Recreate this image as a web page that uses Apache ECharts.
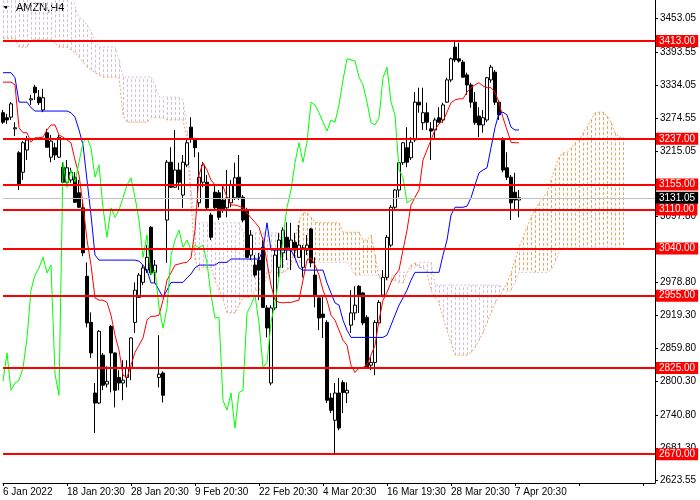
<!DOCTYPE html>
<html lang="en">
<head>
<meta charset="UTF-8">
<title>AMZN,H4</title>
<script src="https://cdn.jsdelivr.net/npm/echarts@6/dist/echarts.min.js"></script>
<style>html,body{margin:0;padding:0;background:#fff}</style>
</head>
<body>
<div id="main" style="width:700px;height:500px"></div>
<script>
// x axis: one label every 16 bars
var dateTicks = ['6 Jan 2022', '18 Jan 20:30', '28 Jan 20:30', '9 Feb 20:30', '22 Feb 20:30',
    '4 Mar 20:30', '16 Mar 19:30', '28 Mar 20:30', '7 Apr 20:30'];
var priceTicks = [3453.05, 3393.55, 3334.05, 3274.55, 3215.05, 3097.80, 2978.80, 2919.30,
    2859.80, 2800.30, 2740.80, 2681.30, 2623.55];
var levels = [3413, 3237, 3155, 3110, 3040, 2955, 2825, 2670];
var lastPrice = 3131.05;

// [open, close, low, high]
var candles = [
    [3284,3267,3264,3289],[3275,3271,3264,3282],[3276,3300,3271,3303],[3255,3257,3242,3267],[3212,3154,3145,3215],
    [3177,3230,3163,3233],[3217,3235,3199,3242],[3307,3309,3298,3316],[3330,3320,3307,3334],[3312,3302,3298,3325],
    [3289,3311,3285,3327],[3248,3222,3221,3255],[3204,3233,3195,3244],[3221,3208,3199,3230],[3204,3240,3203,3244],
    [3186,3159,3158,3195],[3159,3185,3154,3199],[3163,3177,3158,3185],[3168,3123,3122,3177],[3140,3114,3113,3163],
    [3113,3032,3026,3127],[2990,2906,2898,3015],[2907,2852,2843,2925],[2780,2762,2708,2798],[2762,2891,2760,2893],
    [2848,2794,2785,2852],[2796,2801,2790,2828],[2900,2852,2781,2902],[2852,2785,2754,2853],[2808,2798,2785,2821],
    [2798,2803,2767,2839],[2808,2825,2790,2839],[2825,2879,2803,2880],[2907,2965,2888,2979],[2952,2992,2951,2996],
    [2979,3005,2974,3010],[3001,3024,2996,3046],[3078,2996,2992,3080],[2997,3010,2978,3019],[2808,2814,2790,2884],
    [2816,2776,2763,2819],[3091,3195,3014,3199],[3195,3150,3149,3222],[3150,3181,3149,3253],[3181,3159,3145,3194],
    [3136,3195,3113,3208],[3190,3230,3186,3235],[3258,3239,3230,3276],[3235,3221,3204,3239],[3122,3168,3114,3213],
    [3159,3190,3150,3195],[3159,3113,3109,3172],[3100,3060,3055,3104],[3141,3113,3109,3154],[3140,3096,3091,3145],
    [3127,3109,3104,3154],[3113,3131,3096,3181],[3122,3154,3114,3163],[3131,3167,3127,3194],[3168,3132,3127,3208],
    [3132,3091,3087,3136],[3109,3024,3023,3113],[3028,3064,3019,3073],[3010,2992,2988,3028],[3019,3001,2947,3032],
    [3042,2934,2933,3055],[2933,2897,2880,2938],[2798,2933,2794,2938],[2933,3028,2929,3037],[3006,3055,2988,3068],
    [3032,3073,3005,3078],[3060,3042,3019,3087],[3037,3055,3001,3086],[3051,3037,3023,3068],[3024,3046,3023,3082],
    [3006,3041,2988,3046],[3037,3046,3028,3064],[3075,3014,3006,3077],[2992,2956,2934,3024],[2951,2915,2893,2952],
    [2922,2916,2879,2956],[2907,2767,2762,2911],[2771,2749,2744,2780],[2731,2780,2672,2798],[2780,2717,2713,2807],
    [2799,2781,2744,2803],[2780,2785,2762,2799],[2902,2924,2888,2965],[2924,2938,2911,2972],[2972,2956,2924,2974],
    [2960,2906,2902,2961],[2916,2826,2825,2920],[2830,2835,2821,2844],[2835,2907,2812,2911],[2906,2943,2902,2947],
    [2956,2988,2952,3001],[2988,3060,2983,3064],[3046,3114,3042,3118],[3114,3145,3109,3147],[3145,3194,3132,3195],
    [3194,3230,3190,3231],[3221,3195,3186,3258],[3203,3231,3199,3240],[3235,3303,3231,3321],[3303,3298,3284,3329],
    [3266,3284,3253,3329],[3284,3267,3253,3302],[3255,3251,3199,3267],[3253,3271,3235,3275],[3275,3267,3266,3294],
    [3271,3298,3266,3302],[3303,3343,3302,3347],[3343,3381,3339,3383],[3402,3379,3375,3413],[3381,3377,3374,3410],
    [3375,3348,3347,3379],[3352,3334,3316,3356],[3334,3303,3293,3338],[3303,3266,3262,3321],[3278,3262,3240,3294],
    [3262,3275,3248,3289],[3271,3347,3267,3348],[3343,3366,3338,3370],[3357,3303,3298,3361],[3303,3280,3271,3307],
    [3235,3181,3177,3240],[3185,3168,3163,3213],[3168,3122,3091,3172],[3141,3127,3109,3176],[3127,3131.05,3096,3145]
];

var tenkan = [
    3339,3339,3339,3334,3257,3248,3248,3231,3239,3239,
    3240,3253,3262,3262,3244,3240,3235,3230,3199,3172,
    3118,3055,3010,2951,2947,2947,2943,2920,2884,2857,
    2812,2808,2830,2853,2866,2879,2911,2918,2918,2920,
    2947,2983,2996,3010,3012,3014,3015,3023,3073,3172,
    3194,3181,3163,3154,3154,3152,3132,3118,3118,3116,
    3113,3104,3095,3087,3078,3055,3015,2974,2947,2943,
    2942,2943,2943,2945,2947,2983,3019,3023,3010,2992,
    2965,2947,2920,2911,2893,2875,2866,2830,2817,2825,
    2826,2830,2848,2866,2911,2947,2961,2979,2992,3001,
    3037,3073,3118,3132,3145,3199,3217,3235,3253,3264,
    3269,3285,3302,3307,3309,3309,3321,3329,3334,3338,
    3332,3329,3329,3321,3302,3275,3253,3231,3230,3230
];

var kijun = [
    3356,3356,3356,3347,3303,3303,3303,3293,3287,3287,
    3287,3287,3287,3287,3287,3287,3287,3284,3276,3253,
    3226,3163,3100,3028,3019,3019,3019,3019,3019,3019,
    3019,3019,3019,3019,3017,3010,3001,2978,2978,2965,
    2952,2965,2979,2979,2979,2979,2987,2994,3005,3010,
    3010,3010,3010,3010,3015,3015,3015,3021,3021,3021,
    3021,3021,3021,3021,3021,3037,3086,3037,3037,3037,
    3037,3037,3037,3023,3005,3001,3001,3001,3001,3001,
    3001,2978,2960,2942,2938,2911,2893,2880,2880,2880,
    2880,2880,2880,2880,2880,2880,2884,2902,2920,2938,
    2951,2965,2983,2997,2997,2997,2997,2997,2997,2997,
    3028,3055,3100,3114,3114,3114,3116,3131,3154,3176,
    3181,3185,3221,3257,3284,3285,3280,3258,3253,3253
];

// cloud spans run 26 bars past the last candle
var spanA = [
    3418,3418,3418,3418,3402,3402,3402,3415,3415,3415,
    3415,3415,3415,3410,3402,3402,3402,3397,3392,3384,
    3375,3366,3361,3356,3352,3348,3348,3348,3348,3348,
    3280,3267,3267,3267,3267,3267,3267,3275,3275,3275,
    3275,3271,3271,3271,3271,3271,3235,3127,3019,3001,
    3006,3006,3006,2983,2965,2947,2924,2924,2924,2938,
    2952,2952,2952,2965,2965,2965,2997,2997,2997,2997,
    2997,3001,3010,3055,3091,3104,3104,3096,3087,3086,
    3086,3086,3086,3086,3086,3069,3069,3069,3069,3069,
    3055,3055,3064,3028,2988,2983,2983,2983,2983,2979,
    2978,2997,3010,3014,3006,3005,2997,2965,2952,2942,
    2916,2893,2870,2848,2848,2848,2848,2853,2862,2875,
    2888,2906,2924,2942,2952,2965,2978,2996,3019,3042,
    3060,3078,3096,3109,3122,3131,3140,3163,3185,3204,
    3212,3212,3221,3230,3235,3248,3258,3271,3284,3285,
    3285,3278,3267,3248,3240,3240
];

var spanB = [
    3532,3532,3532,3532,3532,3532,3532,3532,3532,3532,
    3532,3532,3532,3532,3532,3532,3532,3532,3474,3455,
    3451,3442,3429,3415,3402,3402,3402,3402,3402,3379,
    3348,3348,3348,3348,3348,3348,3348,3348,3334,3312,
    3312,3312,3312,3312,3312,3307,3253,3145,3086,3086,
    3086,3086,3086,3086,3086,3086,3086,3086,3086,3086,
    3068,3068,3068,3068,3068,3068,3068,3068,3068,3068,
    3046,3023,3015,3015,3015,3015,3015,3015,3015,3015,
    3015,3015,3015,3015,3015,3015,3015,3005,2992,2992,
    2992,2992,2992,2992,2992,2992,2992,2992,2992,2997,
    2997,2997,3001,3006,3014,3015,3015,3015,2974,2974,
    2974,2974,2974,2974,2974,2974,2974,2974,2974,2974,
    2974,2974,2974,2974,2974,2969,2961,2965,2979,2997,
    2997,2997,2997,2997,2997,2997,2997,3001,3015,3033,
    3042,3042,3042,3042,3042,3042,3042,3042,3042,3042,
    3042,3042,3042,3042,3042,3042
];

var barCount = 164;
var categories = [];
for (var i = 0; i < barCount; i++) categories.push(String(i));

// chikou span = close shifted 26 bars back
var chikou = [];
for (var j = 26; j < candles.length; j++) chikou.push(candles[j][1]);

var cloudData = spanA.map(function (a, k) { return [k, a, spanB[k]]; });

var axisFont = '"Liberation Sans", Arial, sans-serif';
var axisSize = 10;

function renderCloud(params, api) {
    var a = api.value(1), b = api.value(2);
    var p1 = api.coord([api.value(0), a]);
    var p2 = api.coord([api.value(0), b]);
    var cs = params.coordSys;
    var top = cs.y, bot = cs.y + cs.height;
    var y1 = Math.max(top, Math.min(bot, p1[1]));
    var y2 = Math.max(top, Math.min(bot, p2[1]));
    var x = Math.round(p1[0]) + 0.5;
    return {
        type: 'line',
        shape: {x1: x, y1: y1, x2: x, y2: y2},
        style: {stroke: a >= b ? '#f4a460' : '#d8bfd8', lineWidth: 1, lineDash: [3, 2]}
    };
}

var levelLines = levels.map(function (v) {
    return {
        yAxis: v,
        lineStyle: {color: '#ff0000', width: 2, type: 'solid'},
        label: {backgroundColor: '#ff0000', color: '#fff'}
    };
});
levelLines.push({
    yAxis: lastPrice,
    lineStyle: {color: '#c0c0c0', width: 1, type: 'solid'},
    label: {backgroundColor: '#000', color: '#fff'}
});

var chartDom = document.getElementById('main');
var myChart = echarts.init(chartDom);
var option = {
    animation: false,
    backgroundColor: '#fff',
    grid: {left: 0, right: 45, top: 0, bottom: 17, containLabel: false},
    graphic: [
        {type: 'polygon', shape: {points: [[3, 6], [9, 6], [6, 9]]}, style: {fill: '#000'}},
        {type: 'text', left: 16, top: 2, style: {text: 'AMZN,H4', fill: '#000', font: '11px ' + axisFont}}
    ],
    xAxis: {
        type: 'category',
        data: categories,
        boundaryGap: false,
        axisLine: {lineStyle: {color: '#000', width: 1}},
        axisTick: {
            length: 3, lineStyle: {color: '#000'},
            interval: function (idx) { return idx % 16 === 0; }
        },
        axisLabel: {
            interval: function (idx) { return idx % 16 === 0 && idx / 16 < dateTicks.length; },
            formatter: function (v, idx) { return dateTicks[idx / 16] || ''; },
            hideOverlap: false,
            align: 'left', margin: 4, color: '#000', fontSize: axisSize, fontFamily: axisFont
        },
        splitLine: {show: false}
    },
    yAxis: {
        type: 'value',
        position: 'right',
        min: 2618.2,
        max: 3486.7,
        axisLine: {show: true, lineStyle: {color: '#000', width: 1}},
        axisTick: {show: true, length: 3, customValues: priceTicks, lineStyle: {color: '#000'}},
        axisLabel: {
            customValues: priceTicks, margin: 5, color: '#000', fontSize: axisSize, fontFamily: axisFont,
            hideOverlap: false,
            formatter: function (v) { return v.toFixed(2); }
        },
        splitLine: {show: false}
    },
    series: [
        {
            name: 'cloud', type: 'custom', renderItem: renderCloud, data: cloudData,
            encode: {x: 0, y: [1, 2]}, silent: true, z: 1
        },
        {
            name: 'Senkou A', type: 'line', data: spanA, symbol: 'none', silent: true, z: 2,
            lineStyle: {color: '#f4a460', width: 1, type: [2, 2]}
        },
        {
            name: 'Senkou B', type: 'line', data: spanB, symbol: 'none', silent: true, z: 2,
            lineStyle: {color: '#d8bfd8', width: 1, type: [2, 2]}
        },
        {
            name: 'AMZN', type: 'candlestick', data: candles, barWidth: 3, z: 3,
            itemStyle: {color: '#fff', color0: '#000', borderColor: '#000', borderColor0: '#000', borderWidth: 1},
            markLine: {
                silent: true, symbol: ['none', 'none'], animation: false,
                label: {
                    position: 'end', distance: 1, formatter: function (p) { return p.value.toFixed(2); },
                    fontSize: axisSize, fontFamily: axisFont, padding: [1, 3, 1, 3]
                },
                data: levelLines
            }
        },
        {
            name: 'Tenkan', type: 'line', data: tenkan, symbol: 'none', silent: true, z: 4,
            lineStyle: {color: '#ff0000', width: 1}
        },
        {
            name: 'Kijun', type: 'line', data: kijun, symbol: 'none', silent: true, z: 4,
            lineStyle: {color: '#0000ff', width: 1}
        },
        {
            name: 'Chikou', type: 'line', data: chikou, symbol: 'none', silent: true, z: 4,
            lineStyle: {color: '#00ff00', width: 1}
        }
    ]
};
option && myChart.setOption(option);
</script>
</body>
</html>
